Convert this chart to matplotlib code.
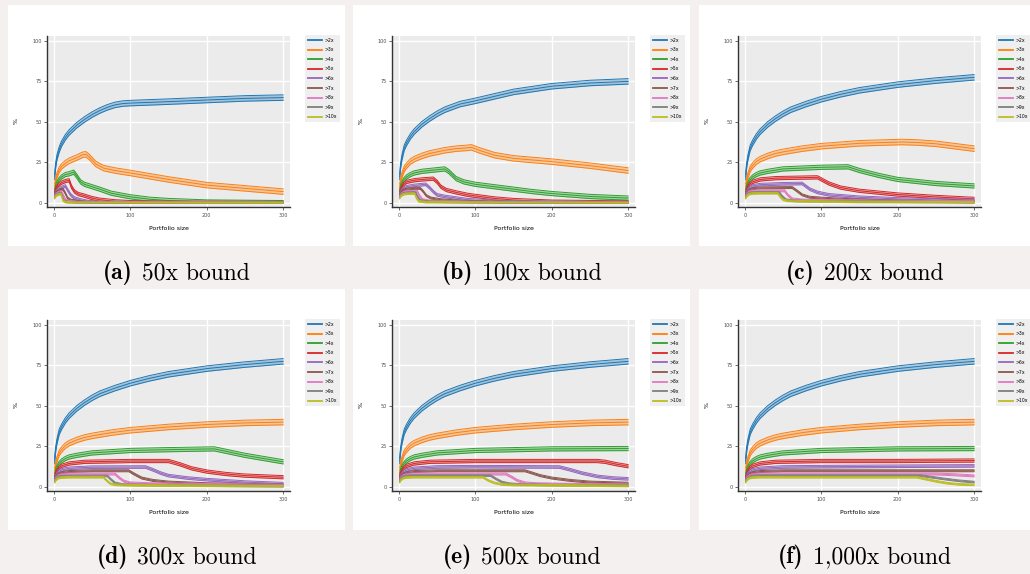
import os
import numpy as np
import matplotlib
matplotlib.use("Agg")
import matplotlib.pyplot as plt
from matplotlib.patches import Rectangle
from matplotlib.lines import Line2D
from matplotlib.font_manager import FontProperties

# Computer Modern fonts shipped with matplotlib, for the captions
ttf_dir = os.path.join(matplotlib.get_data_path(), "fonts", "ttf")
cm_bold = FontProperties(fname=os.path.join(ttf_dir, "cmb10.ttf"), size=17)
cm_roman = FontProperties(fname=os.path.join(ttf_dir, "cmr10.ttf"), size=17)

# series labels and colours
labels = [">2x", ">3x", ">4x", ">5x", ">6x", ">7x", ">8x", ">9x", ">10x"]
colors = ["#1f77b4", "#ff7f0e", "#2ca02c", "#d62728", "#9467bd",
          "#8c564b", "#e377c2", "#7f7f7f", "#bcbd22"]
# half width of the band around each series (in %)
band = [1.7, 1.7, 1.3, 1.0, 0.8, 0.6, 0.6, 0.5, 0.5]

caption_tags = ["(a)", "(b)", "(c)", "(d)", "(e)", "(f)"]
caption_texts = ["50x bound", "100x bound", "200x bound",
                 "300x bound", "500x bound", "1,000x bound"]

# curves, as (portfolio size, %) points
blue_full = [(1, 16), (2, 22), (4, 28), (7, 34), (10, 37), (15, 41), (20, 44), (30, 48.5),
             (40, 52), (50, 55), (60, 57.5), (80, 61), (100, 64), (125, 67), (150, 69.5),
             (200, 73), (250, 75.5), (300, 77.5)]
orange_full = [(1, 10), (2, 13), (4, 17), (7, 21), (10, 23), (15, 25.5), (20, 27), (30, 29),
               (40, 30.5), (50, 31.5), (75, 33.5), (100, 35), (150, 37), (200, 38.5),
               (250, 39.5), (300, 40)]

curves_50x = [
    [(1, 16), (2, 22), (4, 28), (7, 33), (10, 36.5), (15, 40.5), (20, 43.5), (30, 48),
     (40, 51.5), (50, 54.5), (60, 57), (70, 59), (80, 60.5), (90, 61.3), (100, 61.6),
     (150, 62.5), (200, 63.5), (250, 64.5), (300, 65)],
    [(1, 10), (2, 13), (4, 17), (7, 20.5), (10, 22.5), (15, 24.5), (20, 26), (30, 28),
     (38, 29.8), (42, 30), (46, 28.5), (55, 24), (65, 21.5), (80, 20), (100, 18.5),
     (150, 14.5), (200, 11), (250, 9), (300, 7)],
    [(1, 7), (3, 11), (6, 14), (10, 16), (15, 17.5), (20, 18), (26, 19), (30, 16.5),
     (35, 13), (40, 11.5), (50, 10), (60, 8.5), (75, 6), (100, 3.8), (125, 2.3),
     (150, 1.5), (200, 0.6), (300, 0.2)],
    [(1, 6), (3, 9), (6, 11), (10, 12.5), (15, 13.5), (20, 14), (23, 10), (27, 7),
     (32, 5.5), (40, 4.5), (50, 3), (60, 2), (80, 1), (100, 0.5), (150, 0.2), (300, 0)],
    [(1, 5), (3, 7), (6, 8.5), (10, 9.5), (15, 10.5), (18, 8), (22, 5), (27, 3),
     (35, 1.8), (45, 0.8), (60, 0.3), (300, 0)],
    [(1, 4.5), (3, 6.5), (6, 7.5), (9, 8.3), (12, 8.5), (15, 6), (18, 3), (22, 1.8),
     (30, 1), (45, 0.4), (300, 0)],
    [(1, 4), (3, 5.5), (6, 6.5), (10, 7), (12, 5), (15, 2), (20, 1), (30, 0.4), (300, 0)],
    [(1, 3.5), (3, 5), (6, 5.8), (9, 6), (11, 4), (13, 1.5), (18, 0.6), (30, 0.2), (300, 0)],
    [(1, 3), (3, 4.5), (6, 5.2), (9, 5.5), (10, 4.5), (12, 1.5), (15, 0.5), (30, 0.1),
     (300, 0)],
]

curves_100x = [
    [(1, 16), (2, 22), (4, 28), (7, 34), (10, 37), (15, 41), (20, 44), (30, 48.5),
     (40, 52), (50, 55), (60, 57.5), (80, 61), (100, 63), (150, 68.5), (200, 72),
     (250, 74), (300, 75)],
    [(1, 10), (2, 13), (4, 17), (7, 21), (10, 23), (15, 25.5), (20, 27), (30, 29),
     (40, 30.5), (50, 31.5), (60, 32.5), (75, 33.5), (90, 34), (95, 34.3), (105, 32.5),
     (125, 29.5), (150, 27.5), (175, 26.5), (200, 25.5), (250, 23), (300, 20)],
    [(1, 7), (3, 11), (6, 14), (10, 16), (15, 17.5), (20, 18.5), (30, 19.5), (50, 20.5),
     (60, 21), (65, 19.5), (75, 15), (85, 13), (100, 11.5), (125, 10), (150, 8.5),
     (175, 7), (200, 5.8), (250, 4), (300, 3)],
    [(1, 6), (3, 9), (6, 11.5), (10, 13), (20, 14), (30, 14.5), (45, 15), (50, 13),
     (55, 10), (62, 8), (75, 6.5), (90, 5), (125, 2.8), (150, 1.8), (200, 0.8), (300, 0.3)],
    [(1, 5), (3, 7.5), (6, 9), (10, 10), (20, 10.8), (35, 11.5), (40, 9.5), (45, 7),
     (50, 5), (60, 4), (75, 3), (90, 2), (125, 1), (150, 0.6), (300, 0.1)],
    [(1, 4.5), (3, 6.5), (6, 8), (10, 8.5), (20, 9), (28, 9), (32, 7), (36, 4.5),
     (42, 3), (55, 2), (75, 1.2), (100, 0.8), (150, 0.3), (300, 0.1)],
    [(1, 4), (3, 5.5), (6, 6.5), (10, 7), (20, 7.2), (24, 7.2), (27, 4.5), (31, 2),
     (40, 1.2), (60, 0.8), (100, 0.4), (300, 0.1)],
    [(1, 3.5), (3, 5), (6, 6), (10, 6.3), (20, 6.5), (22, 6.3), (25, 3.5), (28, 1.5),
     (40, 0.8), (100, 0.3), (300, 0.1)],
    [(1, 3), (3, 4.5), (6, 5.3), (10, 5.7), (20, 5.8), (21, 5.5), (23, 3), (26, 1),
     (35, 0.5), (100, 0.2), (300, 0)],
]

curves_200x = [
    blue_full,
    [(1, 10), (2, 13), (4, 17), (7, 21), (10, 23), (15, 25.5), (20, 27), (30, 29),
     (40, 30.5), (50, 31.5), (75, 33.5), (100, 35), (150, 36.8), (205, 37.6), (225, 37.3),
     (250, 36.5), (275, 35), (300, 33.5)],
    [(1, 7), (3, 11), (6, 14), (10, 16), (15, 17.5), (20, 18.5), (30, 19.5), (50, 21),
     (100, 22), (135, 22.3), (150, 20), (175, 17), (200, 14.5), (250, 12), (300, 10.5)],
    [(1, 6), (3, 9), (6, 11.5), (10, 13), (20, 14.5), (40, 15.3), (95, 15.8), (110, 12),
     (125, 9.5), (150, 7.5), (200, 5.2), (250, 3.7), (300, 2.5)],
    [(1, 5), (3, 7.5), (6, 9.5), (10, 10.5), (20, 11.3), (50, 11.8), (75, 12), (85, 8.5),
     (95, 6.5), (110, 5), (150, 3.5), (200, 2.5), (250, 1.8), (300, 1.5)],
    [(1, 4.5), (3, 6.5), (6, 8), (10, 8.8), (20, 9.3), (62, 9.5), (68, 7.5), (75, 5),
     (85, 3.5), (100, 3), (125, 2.3), (150, 1.8), (200, 1.2), (300, 0.7)],
    [(1, 4), (3, 5.8), (6, 7), (10, 7.3), (20, 7.5), (52, 7.5), (56, 5), (62, 2.5),
     (75, 1.8), (100, 1.5), (200, 1), (300, 0.8)],
    [(1, 3.5), (3, 5.2), (6, 6.2), (10, 6.4), (20, 6.5), (45, 6.5), (49, 4), (54, 2),
     (65, 1.3), (100, 1), (300, 0.4)],
    [(1, 3), (3, 4.5), (6, 5.5), (10, 5.8), (20, 6), (43, 6), (46, 4), (50, 2),
     (56, 1.3), (75, 1), (150, 0.6), (300, 0.3)],
]

curves_300x = [
    blue_full,
    orange_full,
    [(1, 7), (3, 11), (6, 14), (10, 16), (15, 17.5), (20, 18.5), (30, 19.5), (50, 21),
     (100, 22.5), (150, 23), (210, 23.5), (230, 21.5), (250, 19.5), (275, 17.5), (300, 15.5)],
    [(1, 6), (3, 9), (6, 11.5), (10, 13), (20, 14.5), (40, 15.5), (100, 16), (150, 16),
     (165, 14), (180, 11.5), (200, 9.5), (225, 8), (250, 7), (300, 6)],
    [(1, 5), (3, 7.5), (6, 9.5), (10, 10.5), (20, 11.5), (50, 12.2), (120, 12.3),
     (130, 10.5), (140, 8.5), (150, 7), (175, 5.5), (200, 4.5), (250, 3), (300, 2)],
    [(1, 4.5), (3, 6.5), (6, 8), (10, 8.8), (20, 9.5), (50, 10), (98, 10), (105, 8),
     (115, 5.5), (130, 4), (150, 3), (200, 2), (300, 1.2)],
    [(1, 4), (3, 5.8), (6, 7), (10, 7.5), (20, 8), (80, 8), (86, 5.5), (92, 3.5),
     (100, 2.5), (125, 2), (200, 1.5), (300, 1)],
    [(1, 3.5), (3, 5.2), (6, 6.3), (10, 6.6), (20, 6.8), (70, 6.8), (75, 4.5), (80, 2.5),
     (90, 1.5), (120, 1.2), (200, 0.8), (300, 0.5)],
    [(1, 3), (3, 4.5), (6, 5.5), (10, 5.8), (20, 6), (65, 6), (69, 4), (74, 2), (80, 1.3),
     (100, 1), (200, 0.7), (300, 0.4)],
]

curves_500x = [
    blue_full,
    orange_full,
    [(1, 7), (3, 11), (6, 14), (10, 16), (15, 17.5), (20, 18.5), (30, 19.5), (50, 21),
     (100, 22.5), (150, 23), (200, 23.5), (300, 23.7)],
    [(1, 6), (3, 9), (6, 11.5), (10, 13), (20, 14.5), (40, 15.5), (100, 16), (260, 16),
     (270, 15.5), (285, 14), (300, 12.8)],
    [(1, 5), (3, 7.5), (6, 9.5), (10, 10.5), (20, 11.5), (50, 12.3), (100, 12.5),
     (210, 12.3), (225, 10.5), (240, 8.5), (260, 6.5), (280, 5.5), (300, 5)],
    [(1, 4.5), (3, 6.5), (6, 8), (10, 8.8), (20, 9.5), (50, 10), (165, 10), (175, 8.5),
     (185, 7), (200, 5.5), (225, 4), (250, 3), (300, 2.3)],
    [(1, 4), (3, 5.8), (6, 7), (10, 7.5), (20, 8), (140, 8), (148, 6), (155, 4),
     (165, 2.5), (180, 2), (200, 1.8), (300, 1.2)],
    [(1, 3.5), (3, 5.2), (6, 6.3), (10, 6.8), (20, 7), (120, 7), (127, 5), (135, 3),
     (145, 2), (160, 1.5), (200, 1.2), (300, 0.8)],
    [(1, 3), (3, 4.5), (6, 5.5), (10, 5.8), (20, 6), (110, 6), (117, 4), (125, 2.5),
     (135, 1.5), (150, 1.2), (200, 1), (300, 0.6)],
]

curves_1000x = [
    blue_full,
    orange_full,
    [(1, 7), (3, 11), (6, 14), (10, 16), (15, 17.5), (20, 18.5), (30, 19.5), (50, 21),
     (100, 22.5), (150, 23), (200, 23.5), (300, 23.7)],
    [(1, 6), (3, 9), (6, 11.5), (10, 13), (20, 14.5), (40, 15.5), (100, 16), (200, 16),
     (300, 16.3)],
    [(1, 5), (3, 7.5), (6, 9.5), (10, 10.5), (20, 11.5), (50, 12.3), (100, 12.5),
     (300, 13)],
    [(1, 4.5), (3, 6.5), (6, 8), (10, 8.8), (20, 9.5), (50, 10), (300, 10)],
    [(1, 4), (3, 5.8), (6, 7), (10, 7.5), (20, 8), (100, 8), (250, 8), (275, 7.5),
     (300, 6.8)],
    [(1, 3.5), (3, 5.2), (6, 6.3), (10, 6.8), (20, 7), (230, 7), (245, 6), (260, 5),
     (280, 3.8), (300, 3)],
    [(1, 3), (3, 4.5), (6, 5.5), (10, 5.8), (20, 6), (225, 6), (235, 5), (250, 3.5),
     (265, 2.3), (280, 1.6), (300, 1.3)],
]

panels = [curves_50x, curves_100x, curves_200x, curves_300x, curves_500x, curves_1000x]

# figure layout in pixels
W, H = 1030, 574
col_left = [8, 353, 699]
col_width = [337, 337, 331]
row_top = [5, 289]
row_height = 241


def fig_box(left, top, width, height):
    return [left / W, 1 - (top + height) / H, width / W, height / H]


fig = plt.figure(figsize=(W / 100, H / 100), dpi=100)
fig.patch.set_facecolor("#f5f0f0")
renderer = fig.canvas.get_renderer()

for i, curves in enumerate(panels):
    r, c = divmod(i, 3)
    pl, pt = col_left[c], row_top[r]
    fig.patches.append(Rectangle((pl / W, 1 - (pt + row_height) / H),
                                 col_width[c] / W, row_height / H,
                                 transform=fig.transFigure, facecolor="white",
                                 edgecolor="none", zorder=-5))
    ax = fig.add_axes(fig_box(pl + 39, pt + 31, 243, 171))
    ax.set_zorder(2)
    ax.set_facecolor("#ebebeb")
    ax.grid(True, color="white", lw=1.0)
    ax.set_axisbelow(True)

    for k, pts in enumerate(curves):
        xs = np.array([p[0] for p in pts], dtype=float)
        ys = np.array([p[1] for p in pts], dtype=float)
        lo = np.maximum(ys - band[k], 0)
        hi = ys + band[k]
        ax.fill_between(xs, lo, hi, color=colors[k], alpha=0.35, lw=0)
        ax.plot(xs, lo, color=colors[k], lw=0.7)
        ax.plot(xs, hi, color=colors[k], lw=0.7)
        ax.plot(xs, ys, color=colors[k], lw=0.7)

    ax.set_xlim(-9, 309)
    ax.set_ylim(-2.5, 103)
    ax.set_xticks([0, 100, 200, 300])
    ax.set_yticks([0, 25, 50, 75, 100])
    for s in ["top", "right"]:
        ax.spines[s].set_visible(False)
    for s in ["left", "bottom"]:
        ax.spines[s].set_color("#333333")
        ax.spines[s].set_linewidth(1.0)
    ax.tick_params(length=2, width=0.5, color="#333333", labelsize=3.5,
                   labelcolor="#4d4d4d", pad=2)
    ax.set_xlabel("Portfolio size", fontsize=4.5, labelpad=6)
    ax.set_ylabel("%", fontsize=4.5, labelpad=10)

    handles = [Line2D([], [], color=col, lw=1.3) for col in colors]
    leg = ax.legend(handles, labels, loc="upper left", bbox_to_anchor=(1.062, 1.006),
                    borderaxespad=0, fontsize=3.3, frameon=True, fancybox=False,
                    handlelength=3.2, handletextpad=0.4, labelspacing=1.0,
                    borderpad=0.6)
    leg.get_frame().set_facecolor("#ebebeb")
    leg.get_frame().set_edgecolor("none")

    # caption: bold tag followed by roman text, centred under the panel
    cy = 1 - (pt + 268) / H
    cx = (pl + col_width[c] / 2) / W
    t1 = fig.text(cx, cy, caption_tags[i], fontproperties=cm_bold, ha="left", va="center")
    t2 = fig.text(cx, cy, caption_texts[i], fontproperties=cm_roman, ha="left", va="center")
    w1 = t1.get_window_extent(renderer).width
    w2 = t2.get_window_extent(renderer).width
    gap = 9
    start = cx * W - (w1 + gap + w2) / 2
    t1.set_x(start / W)
    t2.set_x((start + w1 + gap) / W)

fig.savefig("out.png", dpi=100, facecolor=fig.get_facecolor())
